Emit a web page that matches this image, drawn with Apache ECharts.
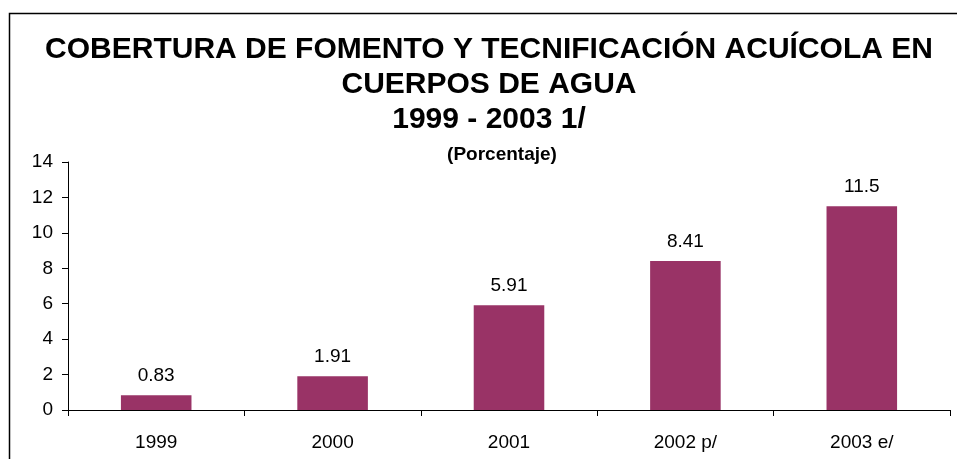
<!DOCTYPE html>
<html>
<head>
<meta charset="utf-8">
<script src="https://cdn.jsdelivr.net/npm/echarts@6/dist/echarts.min.js"></script>
<style>
  html, body { margin: 0; padding: 0; background: #fff; }
  #chart { width: 957px; height: 459px; }
</style>
</head>
<body>
<div id="chart"></div>
<script>
var years = ['1999', '2000', '2001', '2002 p/', '2003 e/'];
var cobertura = [0.83, 1.91, 5.91, 8.41, 11.5];
var yTicks = { min: 0, max: 14, interval: 2 };

var barColor = '#993366';
var font = 'Liberation Sans, Arial, sans-serif';

var myChart = echarts.init(document.getElementById('chart'));
myChart.setOption({
    backgroundColor: '#fff',
    animation: false,
    title: [
        {
            text: 'COBERTURA DE FOMENTO Y TECNIFICACIÓN ACUÍCOLA EN\nCUERPOS DE AGUA\n1999 - 2003 1/',
            left: 484,
            top: 27,
            textAlign: 'center',
            textStyle: {
                fontFamily: font,
                fontSize: 30,
                fontWeight: 'bold',
                color: '#000',
                lineHeight: 35
            }
        },
        {
            text: '(Porcentaje)',
            left: 497,
            top: 140,
            textAlign: 'center',
            textStyle: {
                fontFamily: font,
                fontSize: 19,
                fontWeight: 'bold',
                color: '#000',
                lineHeight: 20
            }
        }
    ],
    graphic: [
        {
            type: 'polyline',
            shape: { points: [[9.5, 459], [9.5, 13.5], [957, 13.5]] },
            style: { stroke: '#000', lineWidth: 1.5, fill: null }
        }
    ],
    grid: { left: 68, right: 7, top: 162, bottom: 49 },
    xAxis: {
        type: 'category',
        data: years,
        axisLine: { lineStyle: { color: '#000', width: 1 } },
        axisTick: { show: true, length: 6, lineStyle: { color: '#000' } },
        axisLabel: { color: '#000', fontFamily: font, fontSize: 19, margin: 23 }
    },
    yAxis: {
        type: 'value',
        min: yTicks.min,
        max: yTicks.max,
        interval: yTicks.interval,
        axisLine: { show: true, lineStyle: { color: '#000', width: 1 } },
        axisTick: { show: true, length: 6, lineStyle: { color: '#000' } },
        splitLine: { show: false },
        axisLabel: { color: '#000', fontFamily: font, fontSize: 19, margin: 15 }
    },
    series: [
        {
            name: 'Cobertura',
            type: 'bar',
            data: cobertura,
            barWidth: '40%',
            itemStyle: { color: barColor },
            label: {
                show: true,
                position: 'top',
                distance: 10,
                color: '#000',
                fontFamily: font,
                fontSize: 19
            }
        }
    ]
});
</script>
</body>
</html>
